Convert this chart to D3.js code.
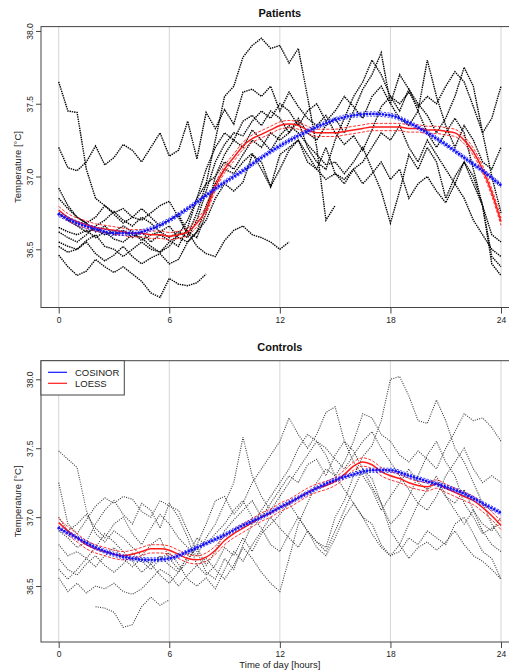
<!DOCTYPE html>
<html>
<head>
<meta charset="utf-8">
<script src="https://cdn.jsdelivr.net/npm/d3@7"></script>
<style>
  body { margin: 0; background: #fff; }
  svg { display: block; font-family: "Liberation Sans", Arial, sans-serif; }
</style>
</head>
<body>
<svg id="chart" width="509" height="670"></svg>
<script>
// ---- axes ----
const hourTicks = [0, 6, 12, 18, 24];
const tempTicks = [36.5, 37.0, 37.5, 38.0];
const traceStep = 0.5;   // hours between trace samples
const fitStepLoess = 0.5;
const fitStepCosinor = 1;

// ---- Patients: individual recordings (every 0.5 h from start hour) ----
const p1 = [37.65,37.45,37.44,37.05,36.85,36.80,36.75,36.78,36.72,36.70,
            36.75,36.80,36.83,36.72,36.60,36.75,36.95,37.25,37.55,37.62,
            37.82,37.90,37.95,37.88,37.90,37.78,37.88,37.55,37.20,36.70,36.80];
const p2 = [37.20,37.06,37.04,37.10,37.21,37.08,37.13,37.22,37.18,37.10,
            37.20,37.30,37.14,37.18,37.38,37.12,37.44,37.33,37.46,37.36,
            37.58,37.60,37.55,37.62,37.45,37.58,37.48,37.40,37.35,37.42,
            37.30,37.22,37.28,37.18,37.32,37.48,37.55,37.50,37.58,37.48,
            37.55,37.50,37.62,37.72,37.65,37.48,37.30,37.40,37.62];
const p3 = [36.46,36.38,36.32,36.35,36.43,36.38,36.34,36.38,36.33,36.28,
            36.20,36.17,36.30,36.26,36.25,36.27,36.33];
const p4 = [36.55,36.52,36.50,36.56,36.60,36.52,36.50,36.45,36.50,36.55,
            36.50,36.48,36.52,36.60,36.62,36.52,36.47,36.45,36.56,36.63,
            36.66,36.60,36.58,36.55,36.50,36.55];
const p5 = [36.92,36.80,36.72,36.68,36.62,36.66,36.60,36.63,36.58,36.62,
            36.55,36.60,36.56,36.52,36.65,36.85,37.05,37.20,37.30,37.25,
            37.38,37.42,37.35,37.45,37.40,37.30,37.38,37.20,37.10,37.05,
            37.25,37.40,37.55,37.65,37.80,37.70,37.55,37.45,37.60,37.50,
            37.42,37.30,37.40,37.55,37.75,37.62,37.30,37.00,36.75];
const p6 = [36.65,36.62,36.60,36.63,36.58,36.62,36.57,36.55,36.60,36.58,
            36.52,36.48,36.55,36.60,36.70,36.85,36.95,37.00,37.15,37.25,
            37.20,37.32,37.25,37.18,37.28,37.35,37.30,37.22,37.15,37.08,
            37.10,37.02,37.10,37.20,37.05,36.90,36.68,36.90,37.15,37.05,
            37.20,37.10,36.85,37.00,37.10,36.95,36.80,36.60,36.55];
const p7 = [36.75,36.70,36.66,36.62,36.64,36.60,36.62,36.66,36.62,36.56,
            36.60,36.62,36.58,36.62,36.58,36.70,36.90,37.10,37.22,37.30,
            37.28,37.38,37.45,37.40,37.50,37.45,37.35,37.45,37.50,37.38,
            37.45,37.55,37.48,37.40,37.55,37.62,37.50,37.40,37.35,37.45,
            37.30,37.20,37.30,37.40,37.30,37.05,36.80,36.45,36.38];
const p8 = [36.52,36.48,36.50,36.55,36.47,36.42,36.46,36.52,36.45,36.40,
            36.44,36.47,36.40,36.43,36.55,36.62,36.70,36.85,36.95,36.90,
            36.96,37.15,37.10,36.93,37.15,37.20,37.25,37.10,37.05,37.20,
            37.02,36.98,37.05,36.95,37.02,37.10,36.98,37.05,36.85,36.95,
            37.00,36.90,36.82,36.95,36.85,36.70,36.60,36.50,36.45];
const p9 = [36.62,36.58,36.55,36.60,36.66,36.70,36.76,36.70,36.66,36.72,
            36.68,36.62,36.66,36.58,36.55,36.62,36.80,36.95,37.05,37.02,
            37.10,37.16,37.05,36.93,37.05,37.18,37.25,37.15,37.05,36.98,
            37.02,36.95,37.05,37.10,37.20,37.30,37.25,37.35,37.20,37.10,
            37.25,37.15,37.05,36.95,37.10,37.00,36.80,36.40,36.32];
const p10 = [36.85,36.78,36.72,36.68,36.72,36.80,36.74,36.68,36.72,36.78,
             36.72,36.66,36.70,36.74,36.62,36.58,36.75,37.00,37.10,37.05,
             37.15,37.25,37.20,37.30,37.25,37.30,37.40,37.30,37.25,37.35,
             37.40,37.30,37.45,37.60,37.70,37.85,37.50,37.70,37.60,37.45,
             37.80,37.55,37.35,37.20,37.35,37.25,37.10,37.05,37.20];
const patientTraces = [p1, p2, p3, p4, p5, p6, p7, p8, p9, p10];
const patientStarts = [0, 0, 0, 0, 0, 0, 0, 0, 0, 0];

// Patients fits
const patientsCosinor = [36.74,36.68,36.64,36.61,36.61,36.64,36.70,36.78,36.87,36.96,
                         37.04,37.13,37.21,37.28,37.34,37.39,37.42,37.43,37.42,37.37,
                         37.30,37.22,37.13,37.04,36.94];
const patientsLoess = [36.77,36.72,36.69,36.67,36.65,36.64,36.63,36.62,36.61,36.61,
                       36.60,36.60,36.59,36.60,36.62,36.68,36.77,36.93,37.05,37.13,
                       37.21,37.26,37.29,37.32,37.35,37.36,37.35,37.32,37.30,37.30,
                       37.30,37.31,37.32,37.33,37.34,37.34,37.34,37.34,37.33,37.33,
                       37.32,37.32,37.31,37.30,37.25,37.17,37.05,36.89,36.69];
const patientsCosinorCI = 0.015;
const patientsLoessCI = 0.025;

// ---- Controls: individual recordings ----
const c1 = [37.48,37.42,37.36,37.05,36.88,36.82,36.90,36.85,36.78,36.72,
            36.80,36.85,36.70,36.62,36.70,36.78,36.65,36.75,36.90,36.98,
            37.05,37.12,37.00,37.10,37.20,37.30,37.25,37.38,37.42,37.30,
            37.45,37.55,37.48,37.35,37.22,37.10,36.95,37.02,37.15,37.30,
            37.45,37.55,37.40,37.30,37.10,37.00,36.88,36.92,36.95];
const c2 = [36.35,36.34,36.31,36.20,36.22,36.35,36.42,36.36,36.40];
const c3 = [37.25,36.95,36.88,36.98,37.08,37.14,37.10,37.15,37.13,37.04,
            37.00,37.12,37.08,37.05,36.90,36.75,36.60,36.55,36.70,36.62,
            36.80,36.95,37.05,37.15,37.25,37.35,37.50,37.60,37.55,37.50,
            37.42,37.35,37.45,37.55,37.62,37.50,37.40,37.30,37.20,37.10,
            37.05,37.15,37.30,37.40,37.50,37.35,37.25,37.30,37.25];
const c4 = [36.90,36.85,36.78,36.82,36.95,37.05,37.12,37.02,36.95,37.10,
            37.05,36.92,37.10,37.00,36.85,36.65,36.58,36.65,36.78,36.72,
            36.85,36.75,36.88,36.95,37.02,37.10,37.00,36.90,36.82,36.78,
            37.00,37.12,37.30,37.44,37.52,37.70,38.00,38.02,37.88,37.70,
            37.68,37.85,37.70,37.50,37.40,37.25,37.10,36.95,36.85];
const c5 = [36.56,36.46,36.52,36.45,36.50,36.48,36.52,36.46,36.44,36.48,
            36.55,36.62,36.58,36.50,36.58,36.65,36.70,36.62,36.55,36.65,
            36.78,36.70,36.60,36.52,36.46,36.70,36.95,37.10,37.25,37.35,
            37.30,37.20,37.10,37.00,36.95,36.80,36.72,36.75,36.85,36.80,
            36.90,36.85,36.80,36.95,37.00,36.88,36.75,36.70,36.55];
const c6 = [36.80,36.72,36.75,36.70,36.64,36.72,36.78,36.70,36.64,36.70,
            36.66,36.72,36.65,36.60,36.68,36.80,36.95,37.12,37.15,37.02,
            37.10,37.25,37.35,37.45,37.55,37.72,37.60,37.50,37.60,37.76,
            37.80,37.55,37.40,37.30,37.20,37.05,37.15,37.25,37.35,37.25,
            37.20,37.30,37.15,37.05,36.95,37.05,36.90,36.80,36.75];
const c7 = [37.00,36.90,36.95,37.02,36.92,36.85,36.95,37.00,36.88,36.80,
            36.92,37.02,36.95,36.85,36.78,36.72,36.85,36.95,37.10,37.25,
            37.58,37.30,37.15,37.05,37.15,37.25,37.35,37.45,37.55,37.45,
            37.30,37.40,37.55,37.75,37.72,37.60,37.55,37.45,37.40,37.48,
            37.42,37.35,37.50,37.62,37.75,37.70,37.72,37.65,37.55];
const c8 = [36.70,36.62,36.58,36.66,36.72,36.65,36.60,36.66,36.74,36.68,
            36.62,36.70,36.74,36.66,36.55,36.50,36.56,36.48,36.62,36.75,
            36.68,36.80,36.90,37.00,36.92,36.85,36.78,36.90,36.82,36.75,
            36.90,37.05,37.20,37.35,37.28,37.10,36.90,36.80,36.70,36.78,
            36.82,36.76,36.82,36.90,36.80,36.72,36.68,36.62,36.55];
const c9 = [36.62,36.55,36.62,36.70,36.78,36.88,36.82,36.75,36.68,36.60,
            36.66,36.58,36.52,36.60,36.72,36.85,36.80,36.88,36.95,37.05,
            37.12,37.00,36.92,36.80,36.75,36.88,37.00,36.90,36.78,36.72,
            36.85,37.00,37.10,37.00,36.88,36.78,36.72,36.80,36.95,37.10,
            37.20,37.25,37.15,37.10,37.20,37.05,36.95,36.90,37.00];
const controlTraces = [c1, c2, c3, c4, c5, c6, c7, c8, c9];
const controlStarts = [0, 2, 0, 0, 0, 0, 0, 0, 0];

// Controls fits
const controlsCosinor = [36.92,36.85,36.78,36.73,36.70,36.69,36.70,36.75,36.81,36.87,
                         36.94,37.00,37.07,37.14,37.21,37.27,37.31,37.34,37.34,37.30,
                         37.26,37.22,37.17,37.10,37.03];
const controlsLoess = [36.96,36.90,36.85,36.80,36.77,36.75,36.73,36.72,36.73,36.75,
                       36.77,36.77,36.76,36.73,36.70,36.69,36.71,36.76,36.83,36.88,
                       36.92,36.96,37.00,37.03,37.07,37.10,37.14,37.18,37.21,37.23,
                       37.26,37.31,37.37,37.40,37.38,37.33,37.30,37.28,37.25,37.23,
                       37.22,37.24,37.21,37.18,37.15,37.12,37.07,37.01,36.94];
const controlsCosinorCI = 0.015;
const controlsLoessCI = 0.03;

const legendLabels = ["COSINOR", "LOESS"];
const legendColors = ["#1414ff", "#ff1a1a"];

// ---------------------------------------------------------------
const svg = d3.select("#chart");
svg.append("rect").attr("width", 509).attr("height", 670).attr("fill", "#fff");

// x scale shared (R style 4% padding, right edge falls outside the picture)
const x = d3.scaleLinear().domain([-0.96, 24.96]).range([41, 518.7]);

function drawPanel(o) {
    const y = d3.scaleLinear().domain(o.yDomain).range([o.bottom, o.top]);
    const g = svg.append("g");

    svg.append("clipPath").attr("id", "clip-" + o.id)
        .append("rect")
        .attr("x", x.range()[0]).attr("y", o.top)
        .attr("width", x.range()[1] - x.range()[0])
        .attr("height", o.bottom - o.top);

    // grid
    g.selectAll(".grid")
        .data(hourTicks)
        .enter()
        .append("line")
        .attr("x1", d => x(d)).attr("x2", d => x(d))
        .attr("y1", o.top).attr("y2", o.bottom)
        .attr("stroke", "#d6d6d6")
        .attr("stroke-width", 1);

    const plot = g.append("g").attr("clip-path", `url(#clip-${o.id})`);

    // individual traces
    const traceLine = d3.line().x(d => x(d[0])).y(d => y(d[1]));
    o.traces.forEach((vals, i) => {
        const pts = vals.map((v, j) => [o.starts[i] + j * traceStep, v]);
        plot.append("path")
            .attr("d", traceLine(pts))
            .attr("fill", "none")
            .attr("stroke", o.traceColor)
            .attr("stroke-width", o.traceWidth)
            .attr("stroke-dasharray", o.traceDash);
    });

    const fitLine = (vals, step, off) => d3.line()
        .curve(d3.curveMonotoneX)
        .x((d, j) => x(j * step))
        .y(d => y(d + off))(vals);

    // LOESS (red) with band
    [-o.loessCI, o.loessCI].forEach(off => {
        plot.append("path")
            .attr("d", fitLine(o.loess, fitStepLoess, off))
            .attr("fill", "none")
            .attr("stroke", legendColors[1])
            .attr("stroke-width", 0.9)
            .attr("stroke-dasharray", "3 1.5");
    });
    plot.append("path")
        .attr("d", fitLine(o.loess, fitStepLoess, 0))
        .attr("fill", "none")
        .attr("stroke", legendColors[1])
        .attr("stroke-width", 1.5);

    // COSINOR (blue) with band
    [-o.cosinorCI, o.cosinorCI].forEach(off => {
        plot.append("path")
            .attr("d", fitLine(o.cosinor, fitStepCosinor, off))
            .attr("fill", "none")
            .attr("stroke", legendColors[0])
            .attr("stroke-width", 0.8)
            .attr("stroke-dasharray", "2 1.5");
    });
    plot.append("path")
        .attr("d", fitLine(o.cosinor, fitStepCosinor, 0))
        .attr("fill", "none")
        .attr("stroke", legendColors[0])
        .attr("stroke-width", 2.8)
        .attr("stroke-linecap", "round")
        .attr("stroke-dasharray", "0.01 3.2");

    // box
    g.append("rect")
        .attr("x", x.range()[0]).attr("y", o.top)
        .attr("width", x.range()[1] - x.range()[0])
        .attr("height", o.bottom - o.top)
        .attr("fill", "none")
        .attr("stroke", "#444")
        .attr("stroke-width", 1);

    // x axis
    const xa = g.append("g")
        .attr("transform", `translate(0,${o.bottom})`)
        .call(d3.axisBottom(x).tickValues(hourTicks).tickSize(6).tickSizeOuter(0).tickPadding(3));
    xa.select(".domain").remove();
    xa.selectAll("line").attr("stroke", "#444");
    xa.selectAll("text").attr("font-size", "8.5px").attr("fill", "#222").attr("font-family", null);

    // y axis
    const ya = g.append("g")
        .attr("transform", `translate(${x.range()[0]},0)`)
        .call(d3.axisLeft(y).tickValues(tempTicks).tickSize(5).tickSizeOuter(0).tickFormat(d3.format(".1f")));
    ya.select(".domain").remove();
    ya.selectAll("line").attr("stroke", "#444");
    ya.selectAll("text")
        .attr("x", null).attr("dy", null)
        .attr("transform", "translate(-8,0) rotate(-90)")
        .attr("text-anchor", "middle")
        .attr("font-size", "8.5px")
        .attr("fill", "#222")
        .attr("font-family", null);

    // y label
    g.append("text")
        .attr("transform", `translate(21,${(o.top + o.bottom) / 2}) rotate(-90)`)
        .attr("text-anchor", "middle")
        .attr("font-size", "9.5px")
        .attr("fill", "#222")
        .text("Temperature [°C]");

    // title
    g.append("text")
        .attr("x", x(12))
        .attr("y", o.titleY)
        .attr("text-anchor", "middle")
        .attr("font-size", "11px")
        .attr("font-weight", "bold")
        .attr("fill", "#111")
        .text(o.title);

    return y;
}

drawPanel({
    id: "patients", title: "Patients", titleY: 16.5,
    top: 26.6, bottom: 307.5, yDomain: [36.1, 38.03],
    traces: patientTraces, starts: patientStarts,
    traceColor: "#000", traceWidth: 1.4, traceDash: "1.4 0.9",
    cosinor: patientsCosinor, loess: patientsLoess,
    cosinorCI: patientsCosinorCI, loessCI: patientsLoessCI
});

drawPanel({
    id: "controls", title: "Controls", titleY: 350.5,
    top: 360.7, bottom: 642, yDomain: [36.094, 38.135],
    traces: controlTraces, starts: controlStarts,
    traceColor: "#3a3a3a", traceWidth: 1.1, traceDash: "1 1.3",
    cosinor: controlsCosinor, loess: controlsLoess,
    cosinorCI: controlsCosinorCI, loessCI: controlsLoessCI
});

// x label
svg.append("text")
    .attr("x", x(12))
    .attr("y", 668)
    .attr("text-anchor", "middle")
    .attr("font-size", "9.5px")
    .attr("fill", "#222")
    .text("Time of day [hours]");

// legend
const legend = svg.append("g");
legend.append("rect")
    .attr("x", 41).attr("y", 360.7)
    .attr("width", 83.3).attr("height", 34.3)
    .attr("fill", "#fff")
    .attr("stroke", "#444")
    .attr("stroke-width", 1);
legendLabels.forEach((lab, i) => {
    const ly = 372.3 + i * 11;
    legend.append("line")
        .attr("x1", 48).attr("x2", 67)
        .attr("y1", ly).attr("y2", ly)
        .attr("stroke", legendColors[i])
        .attr("stroke-width", 1.2);
    legend.append("text")
        .attr("x", 75).attr("y", ly + 3.4)
        .attr("font-size", "9.5px")
        .attr("fill", "#222")
        .text(lab);
});
</script>
</body>
</html>
